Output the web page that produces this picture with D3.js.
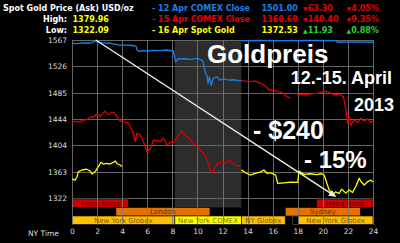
<!DOCTYPE html>
<html>
<head>
<meta charset="utf-8">
<script src="https://cdn.jsdelivr.net/npm/d3@7"></script>
<style>
  body { margin: 0; background: #000; }
  svg { display: block; }
</style>
</head>
<body>
<script>
// Goldpreis 12.-15. April 2013, 24h chart (NY time)

const hourTicks = [0, 2, 4, 6, 8, 10, 12, 14, 16, 18, 20, 22, 24];
const priceTicks = [1322, 1363, 1404, 1444, 1485, 1526, 1567];

// blue: 12 Apr session, plus prior evening at the top right
const blueA = [[0,1562],[0.4,1561.5],[0.8,1562.5],[1.2,1562],[1.6,1563],[1.85,1565.5],[2.2,1563],[2.6,1562.5],[3,1562],[3.4,1560.5],[3.8,1559],[4.3,1559],[4.8,1558.5],[5.1,1557.5],[5.2,1551.5],[5.35,1549],[5.6,1550.5],[6,1550],[6.5,1551],[7,1550.5],[7.5,1551.5],[8.1,1550],[8.25,1533],[8.45,1537.6],[9,1538],[9.5,1537],[10,1538.5],[10.35,1536],[10.45,1533],[10.55,1523],[10.65,1515.5],[10.75,1513],[10.85,1500],[10.95,1510],[11.1,1497],[11.25,1507.7],[11.55,1510],[11.8,1505],[12.1,1507],[12.5,1505],[12.9,1505.5],[13.3,1504],[13.5,1504]];
const blueB = [[13.5,1566],[15,1566.5],[17,1566],[19,1566.5],[21,1566],[21.2,1563.5],[22.5,1564],[24,1563.5]];

// red: 12 Apr evening and 15 Apr session
const redA = [[0,1440.6],[0.3,1441],[0.6,1440],[0.9,1443],[1.2,1444],[1.45,1448],[1.7,1447],[1.97,1452.5],[2.24,1449],[2.45,1453],[2.64,1457],[2.8,1453],[3,1452],[3.15,1455.5],[3.3,1454.5],[3.45,1452],[3.6,1448],[3.84,1441.6],[4.05,1442],[4.24,1439.6],[4.5,1439],[4.64,1432.8],[4.85,1425],[5.04,1409.6],[5.17,1422.6],[5.44,1420],[5.7,1409.6],[5.85,1401],[5.97,1394],[6.24,1399],[6.5,1411.7],[6.77,1412],[7.04,1409.6],[7.3,1415],[7.57,1404.5],[7.84,1408.7],[8.1,1408],[8.37,1417],[8.6,1422],[8.77,1426],[9.04,1420],[9.44,1412],[9.84,1404.5],[10.1,1400],[10.24,1396.8],[10.5,1391.6],[10.8,1380],[11,1366],[11.2,1360.7],[11.4,1368.4],[11.6,1376],[11.9,1378.6],[12.2,1376],[12.6,1381],[12.9,1373.5],[13.2,1372],[13.5,1373]];
const redB = [[13.5,1504],[14.2,1502.5],[14.6,1503.5],[15.04,1500],[15.4,1496],[15.7,1490],[16.2,1488.5],[16.8,1485],[17.1,1480],[17.4,1477],null,[17.95,1482],[18.4,1483],[18.8,1483],[19.2,1484],[19.6,1484.5],[20.1,1488],[20.5,1486],[20.9,1482],[21.3,1483],[21.65,1479],[21.84,1458.7],[21.97,1438],[22.1,1448],[22.24,1435],[22.5,1443],[22.8,1439.6],[23.04,1446],[23.3,1441.6],[23.57,1444.7],[23.84,1439.6],[24,1443]];

// yellow: 15 Apr evening and 16 Apr spot
const yellowA = [[0,1352],[0.25,1350],[0.4,1355.4],[0.5,1363],[0.8,1365.8],[1.17,1367],[1.44,1364.3],[1.6,1359.6],[1.84,1363],[2.1,1371],[2.3,1377.7],[2.5,1375],[2.77,1376],[3,1375],[3.3,1377.7],[3.45,1379.7],[3.6,1375.5],[3.84,1373.5],[3.97,1371]];
const yellowB = [[13.5,1366],[13.8,1362],[14.2,1358],[14.6,1360.7],[15.04,1363],[15.3,1365.8],[15.55,1360.7],[15.84,1361.5],[16.24,1358],[16.4,1345],[16.9,1346],[17.44,1347],[18,1346.5],[18.1,1364],[18.5,1359],[19,1360],[19.5,1358.5],[19.9,1360],[20.1,1358],[20.24,1350],[20.5,1335],[20.8,1327],[21,1332],[21.3,1329.7],[21.5,1336],[21.84,1330],[22.1,1335],[22.37,1331],[22.64,1341],[22.9,1353],[23.04,1348],[23.3,1342.6],[23.57,1347.7],[23.84,1350],[24,1347]];

// trading sessions: [label, start hour, end hour, row]
const sessions = [
  ["Hong Kong", 0, 4.5, 0],
  ["Hong Kong", 19.5, 24, 0],
  ["London", 3.5, 11, 1],
  ["Sydney", 17, 23, 1],
  ["New York Globex", 0, 8.2, 2],
  ["New York COMEX", 8.2, 13.5, 2],
  ["NY Globex", 13.5, 17, 2],
  ["", 17.6, 18.05, 2],
  ["New York Globex", 18.05, 24, 2]
];
const comexHours = [8.2, 13.5];
const trendArrow = [[1.9, 1567], [21, 1325]];

const legendLabels = ["- 12 Apr COMEX Close", "- 15 Apr COMEX Close", "- 16 Apr Spot Gold"];
const legendPrices = ["1501.00", "1360.60", "1372.53"];
const legendChanges = ["63.30", "140.40", "11.93"];
const legendPcts = ["4.05%", "9.35%", "0.88%"];
const legendUp = [false, false, true];
const highLow = [["High:", "1379.96"], ["Low:", "1322.09"]];

const W = 400, H = 243;
const svg = d3.select("body").append("svg")
  .attr("width", W).attr("height", H)
  .style("background", "#000");

const x = d3.scaleLinear().domain([0, 24]).range([72, 373]);
const y = d3.scaleLinear().domain([1322, 1567]).range([198.3, 40]);
const row = d3.scaleBand().domain([0, 1, 2]).range([199, 224.5]);

const plotTop = y(1567), plotBottom = row.range()[1];

// COMEX pit hours shading
svg.append("rect")
  .attr("x", x(comexHours[0])).attr("y", plotTop)
  .attr("width", x(comexHours[1]) - x(comexHours[0]))
  .attr("height", row(1) - plotTop)
  .attr("fill", "#2c2c2c");

// horizontal grid
svg.append("g").selectAll("line").data(priceTicks).join("line")
  .attr("x1", x(0)).attr("x2", x(24))
  .attr("y1", d => Math.round(y(d)) + 0.5).attr("y2", d => Math.round(y(d)) + 0.5)
  .attr("stroke", "#666").attr("stroke-width", 1);

// session bars
const colors = {
  "Hong Kong": "#cc0000", "London": "#e47200", "Sydney": "#e47200",
  "New York Globex": "#ffc000", "New York COMEX": "#ffff00", "NY Globex": "#ffc000", "": "#000"
};
const bars = svg.append("g");
bars.selectAll("rect").data(sessions).join("rect")
  .attr("x", d => x(d[1])).attr("y", d => row(d[3]))
  .attr("width", d => x(d[2]) - x(d[1])).attr("height", row.bandwidth())
  .attr("fill", d => colors[d[0]])
  .attr("stroke", d => d[0] ? "#000" : "#666").attr("stroke-width", 0.6);
bars.selectAll("text").data(sessions).join("text")
  .attr("x", d => (x(d[1]) + x(d[2])) / 2)
  .attr("y", d => row(d[3]) + row.bandwidth() / 2 + 2.5)
  .attr("text-anchor", "middle")
  .attr("font-family", "DejaVu Sans").attr("font-size", 7)
  .attr("fill", "rgba(0,0,0,0.6)")
  .text(d => d[0]);

// vertical grid (over the bars)
svg.append("g").selectAll("line").data(hourTicks).join("line")
  .attr("x1", d => Math.round(x(d)) + 0.5).attr("x2", d => Math.round(x(d)) + 0.5)
  .attr("y1", plotTop).attr("y2", plotBottom)
  .attr("stroke", "#777").attr("stroke-opacity", 0.85).attr("stroke-width", 1);

// price lines
const line = d3.line().defined(d => d).x(d => x(d[0])).y(d => y(d[1]));
const series = [
  [blueA, "#1a80e6"], [blueB, "#1a80e6"],
  [redA, "#e00000"], [redB, "#e00000"],
  [yellowA, "#ffff00"], [yellowB, "#ffff00"]
];
svg.append("g").selectAll("path").data(series).join("path")
  .attr("d", d => line(d[0]))
  .attr("fill", "none").attr("stroke", d => d[1])
  .attr("stroke-width", 1.3).attr("stroke-linejoin", "round");

// trend arrow
svg.append("defs").append("marker")
  .attr("id", "head").attr("viewBox", "0 0 10 10")
  .attr("refX", 9).attr("refY", 5)
  .attr("markerWidth", 9).attr("markerHeight", 7)
  .attr("markerUnits", "userSpaceOnUse")
  .attr("orient", "auto")
  .append("path").attr("d", "M0,0L10,5L0,10z").attr("fill", "#eee");
svg.append("line")
  .attr("x1", x(trendArrow[0][0])).attr("y1", y(trendArrow[0][1]))
  .attr("x2", x(trendArrow[1][0])).attr("y2", y(trendArrow[1][1]))
  .attr("stroke", "#eee").attr("stroke-width", 1.4)
  .attr("marker-end", "url(#head)");

// axes
const xAxis = svg.append("g")
  .attr("transform", `translate(0,${plotBottom + 4})`)
  .call(d3.axisBottom(x).tickValues(hourTicks).tickSize(0).tickPadding(0));
const yAxis = svg.append("g")
  .attr("transform", `translate(${x(0) - 5},0)`)
  .call(d3.axisLeft(y).tickValues(priceTicks).tickSize(0).tickPadding(0).tickFormat(d3.format("d")));
[xAxis, yAxis].forEach(a => {
  a.select(".domain").remove();
  a.selectAll("text").attr("fill", "#ddd").attr("font-family", "DejaVu Sans").attr("font-size", 7.5);
});
svg.append("text").attr("x", 28).attr("y", 236)
  .attr("fill", "#ddd").attr("font-family", "DejaVu Sans").attr("font-size", 7.5)
  .text("NY Time");

// header
const head = svg.append("g").attr("font-family", "DejaVu Sans").attr("font-weight", "bold").attr("font-size", 8);
const rowsY = [11, 22, 33];
const lineColors = ["#1a80e6", "#e00000", "#ffff00"];
head.append("text").attr("x", 3).attr("y", rowsY[0]).attr("fill", "#fff").text("Spot Gold Price (Ask) USD/oz");
highLow.forEach((d, i) => {
  head.append("text").attr("x", 67).attr("y", rowsY[i + 1]).attr("text-anchor", "end").attr("fill", "#fff").text(d[0]);
  head.append("text").attr("x", 72.5).attr("y", rowsY[i + 1]).attr("fill", "#ffff00").text(d[1]);
});
legendLabels.forEach((d, i) => {
  const cy = rowsY[i];
  const chg = legendUp[i] ? "#33cc33" : "#e00000";
  const mark = legendUp[i] ? "\u25B2" : "\u25BC";
  head.append("text").attr("x", 152).attr("y", cy).attr("fill", lineColors[i]).text(d);
  head.append("text").attr("x", 261.5).attr("y", cy).attr("fill", i === 1 ? "#e00000" : lineColors[i]).text(legendPrices[i]);
  const t1 = head.append("text").attr("x", 303).attr("y", cy).attr("fill", chg);
  t1.append("tspan").attr("font-size", 6).text(mark);
  t1.append("tspan").text(legendChanges[i]);
  const t2 = head.append("text").attr("x", 346.5).attr("y", cy).attr("fill", chg);
  t2.append("tspan").attr("font-size", 6).text(mark);
  t2.append("tspan").text(legendPcts[i]);
});

// annotations
const big = svg.append("g").attr("font-family", "Liberation Sans, Arial, sans-serif")
  .attr("font-weight", "bold").attr("fill", "#fff");
big.append("text").attr("x", 207).attr("y", 63).attr("font-size", 26).text("Goldpreis");
big.append("text").attr("x", 392).attr("y", 84).attr("font-size", 18).attr("text-anchor", "end").text("12.-15. April");
big.append("text").attr("x", 394).attr("y", 111).attr("font-size", 18).attr("text-anchor", "end").text("2013");
big.append("text").attr("x", 253).attr("y", 139).attr("font-size", 25).text("- $240");
big.append("text").attr("x", 304).attr("y", 168).attr("font-size", 24).text("- 15%");
</script>
</body>
</html>
